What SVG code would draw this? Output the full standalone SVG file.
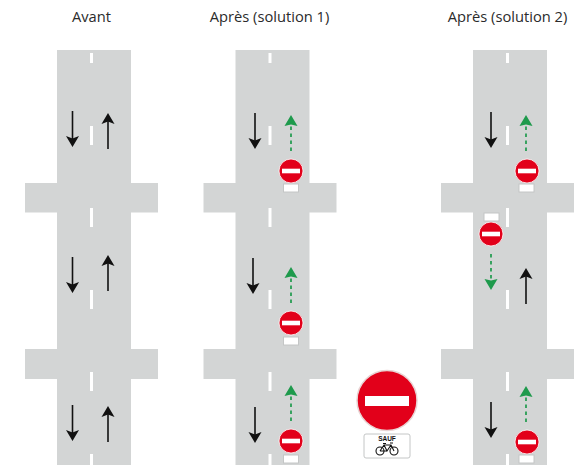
<svg xmlns="http://www.w3.org/2000/svg" xmlns:xlink="http://www.w3.org/1999/xlink" width="583" height="465" viewBox="0 0 583 465">
<style>
.t{font-family:"Open Sans","Noto Sans",sans-serif;font-size:14.7px;fill:#2b2b2b;text-anchor:middle}
.road{fill:#d3d5d5}
.dash{fill:#fff}
.k{stroke:#111;stroke-width:1.6;fill:none}
.kh{fill:#111}
.g{stroke:#1e9a4c;stroke-width:1.7;stroke-dasharray:3.500 3.500;fill:none}
.gh{fill:#1e9a4c}
.plate{fill:#fff;stroke:#c4c6c6;stroke-width:1}
</style>
<defs>
<g id="road">
<rect class="road" x="-34.500" y="50" width="74" height="415"/>
<rect class="road" x="-66.500" y="183" width="133" height="29.500"/>
<rect class="road" x="-66.500" y="349" width="133" height="30"/>
<g class="dash">
<rect x="-1.500" y="53" width="3" height="10"/><rect x="-1.500" y="126" width="3" height="19"/><rect x="-1.500" y="208" width="3" height="19"/>
<rect x="-1.500" y="290" width="3" height="19"/><rect x="-1.500" y="372" width="3" height="19"/><rect x="-1.500" y="454" width="3" height="11"/>
</g>
</g>
<g id="down"><path class="k" d="M0 0V28"/><path class="kh" d="M-6.500 25L0 27.500L6.500 25L0 36Z"/></g>
<g id="up"><path class="k" d="M0 36V8"/><path class="kh" d="M-6.500 11L0 8.500L6.500 11L0 0Z"/></g>
<g id="gup"><path class="g" d="M0 36V10"/><path class="gh" d="M-6.500 11L0 9.500L6.500 11L0 0Z"/></g>
<g id="gdown"><path class="g" d="M0 0V26"/><path class="gh" d="M-6.500 25L0 26.500L6.500 25L0 36Z"/></g>
<g id="sign">
<circle r="12" fill="#e2001a" stroke="#fff" stroke-width="0.800"/>
<rect x="-9" y="-2.300" width="18" height="4.600" fill="#fff"/>
</g>
<rect id="pl" class="plate" x="-7.500" y="-4" width="15" height="8"/>
</defs>
<g id="title-avant"><text class="t" x="91.500" y="22">Avant</text></g>
<g id="title-solution-1"><text class="t" x="269.500" y="22">Après (solution 1)</text></g>
<g id="title-solution-2"><text class="t" x="507.500" y="22">Après (solution 2)</text></g>
<g id="road-avant"><use xlink:href="#road" x="91.500"/></g>
<g id="road-solution-1"><use xlink:href="#road" x="270"/></g>
<g id="road-solution-2"><use xlink:href="#road" x="507.500"/></g>
<g id="connectors">
<use xlink:href="#down" x="72.500" y="111"/><use xlink:href="#up" x="108" y="113"/>
<use xlink:href="#down" x="72.500" y="257"/><use xlink:href="#up" x="108" y="255"/>
<use xlink:href="#down" x="72.500" y="405"/><use xlink:href="#up" x="108" y="406"/>
<use xlink:href="#down" x="255" y="113"/><use xlink:href="#gup" x="291" y="115"/>
<use xlink:href="#down" x="253" y="258"/><use xlink:href="#gup" x="291" y="267"/>
<use xlink:href="#down" x="255" y="407"/><use xlink:href="#gup" x="291" y="385"/>
<use xlink:href="#down" x="491" y="112"/><use xlink:href="#gup" x="526" y="115"/>
<use xlink:href="#gdown" x="491" y="254"/><use xlink:href="#up" x="526" y="268"/>
<use xlink:href="#down" x="491" y="402"/><use xlink:href="#gup" x="526" y="386"/>
</g>
<g id="sign-s1-a"><use xlink:href="#sign" x="291" y="171"/><use xlink:href="#pl" x="291" y="188"/></g>
<g id="sign-s1-b"><use xlink:href="#sign" x="291" y="323"/><use xlink:href="#pl" x="291" y="341"/></g>
<g id="sign-s1-c"><use xlink:href="#sign" x="291" y="441"/><use xlink:href="#pl" x="291" y="459"/></g>
<g id="sign-s2-a"><use xlink:href="#sign" x="527" y="171"/><use xlink:href="#pl" x="526.500" y="188"/></g>
<g id="sign-s2-b"><use xlink:href="#sign" x="491" y="234"/><use xlink:href="#pl" x="491.500" y="217"/></g>
<g id="sign-s2-c"><use xlink:href="#sign" x="527" y="442"/><use xlink:href="#pl" x="526.500" y="459"/></g>
<g id="sign-large">
<circle cx="387" cy="400.500" r="30" fill="#e2001a" stroke="#e8d4d4" stroke-width="1.500"/>
<rect x="365" y="396" width="44" height="10" fill="#fff"/>
<rect x="364" y="434" width="46" height="24" rx="2" fill="#fff" stroke="#c4c6c6" stroke-width="1"/>
<text x="387" y="441" font-family="'Liberation Sans',sans-serif" font-size="6.500" font-weight="bold" fill="#111" text-anchor="middle">SAUF</text>
<g fill="none" stroke="#111" stroke-width="1.100">
<circle cx="380" cy="451" r="4"/><circle cx="394" cy="451" r="4"/>
<path d="M380 451L384 445H391L394 451M384 445L387 451L391 445M387 451H380M383 443.500H386M390 443H393"/>
</g>
</g>
</svg>
